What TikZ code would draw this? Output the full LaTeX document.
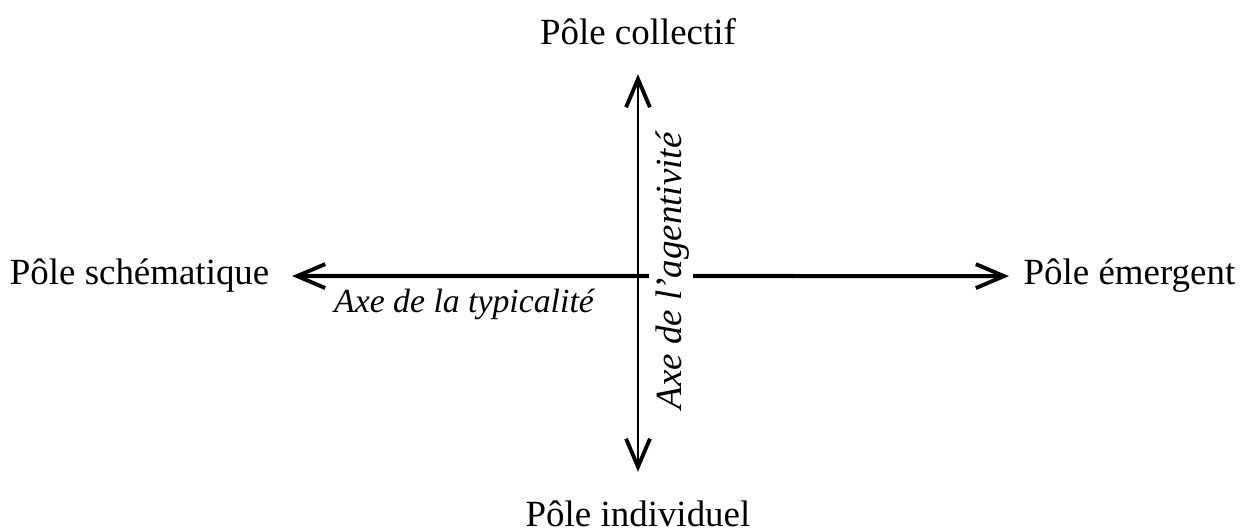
\documentclass[tikz,border=0pt]{standalone}
\usepackage{fontspec}
\setmainfont{Liberation Serif}
\usetikzlibrary{arrows.meta}
\tikzset{pole/.style={inner sep=0pt, font=\fontsize{10.5}{12}\selectfont}}
\tikzset{axelabel/.style={inner sep=0pt, font=\fontsize{9.6}{11}\selectfont\itshape}}
\tikzset{axe/.style={{Straight Barb[length=8pt, width=6.8pt, line width=1.1pt]}-{Straight Barb[length=8pt, width=6.8pt, line width=1.1pt]}, draw=black}}

\begin{document}
\begin{tikzpicture}[x=0.01cm, y=-0.01cm]
  \useasboundingbox (0,0) rectangle (1250,531);

  \node[pole, anchor=base] (collectif) at (638,45) {Pôle collectif};
  \node[pole, anchor=base] (individuel) at (638,527) {Pôle individuel};
  \node[pole, anchor=base east] (schematique) at (270,285) {Pôle schématique};
  \node[pole, anchor=base west] (emergent) at (1023,285) {Pôle émergent};

  \draw[axe, line width=0.8pt, shorten <=8pt, shorten >=8.2pt] (collectif) -- (individuel);
  \draw[axe, line width=1.2pt, shorten <=6.3pt, shorten >=4pt] (schematique) -- (emergent);

  \node[axelabel, anchor=base] (typicalite) at (464,313) {Axe de la typicalité};
  \node[axelabel, font=\fontsize{10.5}{12}\selectfont\itshape, rotate=90, anchor=base, fill=white,
    inner sep=1pt, text height=8.3pt, text depth=2.2pt] (agentivite) at (682,271) {Axe de l’agentivité};
\end{tikzpicture}
\end{document}
